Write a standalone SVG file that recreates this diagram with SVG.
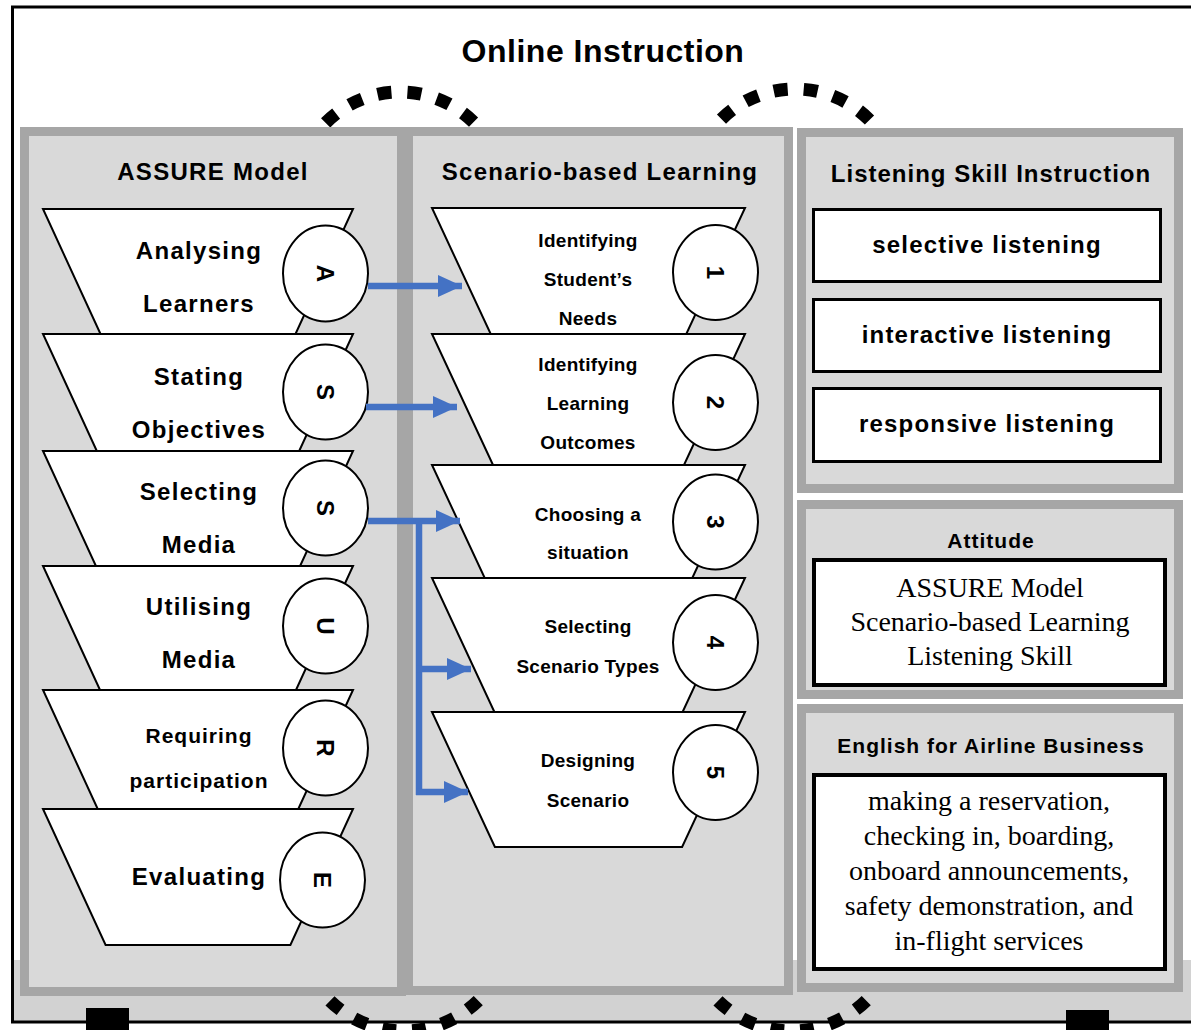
<svg xmlns="http://www.w3.org/2000/svg" width="1191" height="1030" viewBox="0 0 1191 1030">
<style>
.panel{fill:#d9d9d9;stroke:#a6a6a6;stroke-width:9}
.trap{fill:#fff;stroke:#000;stroke-width:2;stroke-linejoin:miter}
.circ{fill:#fff;stroke:#000;stroke-width:2}
.box{fill:#fff;stroke:#000;stroke-width:3}
.boxk{fill:#fff;stroke:#000;stroke-width:4}
.lbl{font-family:"Liberation Sans",Arial,sans-serif;font-weight:bold;text-anchor:middle;fill:#000}
.t24{font-size:24px;letter-spacing:1.3px}
.t21{font-size:21px;letter-spacing:1px}
.mid{font-size:19px;letter-spacing:0.3px}
.ltr{font-size:24px;dominant-baseline:central}
.serif{font-family:"Liberation Serif","Times New Roman",serif;font-size:28px;text-anchor:middle;fill:#000}
.dash{fill:none;stroke:#000;stroke-width:13;stroke-dasharray:14 16}
.arrow{stroke:#4472c4;stroke-width:6.5;fill:none}
</style>
<defs>
<marker id="ah" markerUnits="userSpaceOnUse" markerWidth="24" markerHeight="22" refX="24" refY="11" orient="auto">
<path d="M0,0 L24,11 L0,22 z" fill="#4472c4"/>
</marker>
</defs>
<rect x="0" y="0" width="1191" height="1030" fill="#fff"/>
<rect x="14" y="960" width="1177" height="61" fill="#d2d2d2"/>
<rect x="12.5" y="7" width="1190" height="1015" fill="none" stroke="#000" stroke-width="3"/>
<text class="lbl" x="603" y="62" style="font-size:32px;letter-spacing:0.5px">Online Instruction</text>

<g id="cycle-arcs">
<path class="dash" d="M318.3,131 A105,105 0 0 1 481.7,131" style="stroke-dashoffset:19"/>
<path class="dash" d="M711,131 A105,105 0 0 1 879,131" style="stroke-dashoffset:14"/>
</g>

<g id="panel-assure">
<rect class="panel" x="24.5" y="131.5" width="377" height="860"/>
<text class="lbl t24" x="213" y="180">ASSURE Model</text>
</g>
<g id="panel-scenario">
<rect class="panel" x="408.5" y="131.5" width="380" height="859"/>
<text class="lbl t24" x="600" y="180">Scenario-based Learning</text>
</g>
<g id="panel-listening">
<rect class="panel" x="801.5" y="132.5" width="377" height="356"/>
<text class="lbl t24" x="991" y="182" style="letter-spacing:1px">Listening Skill Instruction</text>
</g>
<g id="panel-attitude">
<rect class="panel" x="801.5" y="504.5" width="377" height="190"/>
<text class="lbl t21" x="991" y="548">Attitude</text>
</g>
<g id="panel-english">
<rect class="panel" x="801.5" y="708.5" width="377" height="279"/>
<text class="lbl t21" x="991" y="753">English for Airline Business</text>
</g>

<g id="bottom-arcs">
<path class="dash" d="M321.9,992 A106,106 0 0 0 486.1,992" style="stroke-dashoffset:18"/>
<path class="dash" d="M709.9,992 A106,106 0 0 0 874.1,992" style="stroke-dashoffset:18"/>
</g>
<rect x="86" y="1008" width="43" height="22" fill="#000"/>
<rect x="1066" y="1010" width="43" height="20" fill="#000"/>

<g id="a-analysing">
<polygon class="trap" points="43,209 353,209 295.5,334 100.5,334"/>
<ellipse class="circ" cx="325.5" cy="273.5" rx="42.5" ry="48"/>
<text class="lbl ltr" transform="translate(325.5,273.5) rotate(90)">A</text>
<text class="lbl t24" x="199" y="259">Analysing</text>
<text class="lbl t24" x="199" y="312">Learners</text>
</g>
<g id="s-stating">
<polygon class="trap" points="43,334 353,334 299.2,451 96.8,451"/>
<ellipse class="circ" cx="325.5" cy="392" rx="42.5" ry="47.5"/>
<text class="lbl ltr" transform="translate(325.5,392) rotate(90)">S</text>
<text class="lbl t24" x="199" y="385">Stating</text>
<text class="lbl t24" x="199" y="438">Objectives</text>
</g>
<g id="s-selecting">
<polygon class="trap" points="43,451 353,451 300.1,566 95.9,566"/>
<ellipse class="circ" cx="325.5" cy="508" rx="42.5" ry="47.5"/>
<text class="lbl ltr" transform="translate(325.5,508) rotate(90)">S</text>
<text class="lbl t24" x="199" y="500">Selecting</text>
<text class="lbl t24" x="199" y="553">Media</text>
</g>
<g id="u-utilising">
<polygon class="trap" points="43,566 353,566 296,690 100,690"/>
<ellipse class="circ" cx="325.5" cy="626" rx="42.5" ry="47.5"/>
<text class="lbl ltr" transform="translate(325.5,626) rotate(90)">U</text>
<text class="lbl t24" x="199" y="615">Utilising</text>
<text class="lbl t24" x="199" y="668">Media</text>
</g>
<g id="r-requiring">
<polygon class="trap" points="43,690 353,690 298.3,809 97.7,809"/>
<ellipse class="circ" cx="325.5" cy="748" rx="42.5" ry="47.5"/>
<text class="lbl ltr" transform="translate(325.5,748) rotate(90)">R</text>
<text class="lbl t21" x="199" y="743">Requiring</text>
<text class="lbl t21" x="199" y="788">participation</text>
</g>
<g id="e-evaluating">
<polygon class="trap" points="43,809 353,809 290.4,945 105.6,945"/>
<ellipse class="circ" cx="322.5" cy="880" rx="42.5" ry="47.5"/>
<text class="lbl ltr" transform="translate(322.5,880) rotate(90)">E</text>
<text class="lbl t24" x="199" y="885">Evaluating</text>
</g>

<g id="s1-needs">
<polygon class="trap" points="432,208 745,208 686.3,334 490.7,334"/>
<ellipse class="circ" cx="715.5" cy="272.5" rx="42.5" ry="47.5"/>
<text class="lbl ltr" transform="translate(715.5,272.5) rotate(90)">1</text>
<text class="lbl mid" x="588" y="247">Identifying</text>
<text class="lbl mid" x="588" y="286">Student’s</text>
<text class="lbl mid" x="588" y="325">Needs</text>
</g>
<g id="s2-outcomes">
<polygon class="trap" points="432,334 745,334 684,465 493,465"/>
<ellipse class="circ" cx="715.5" cy="402.5" rx="42.5" ry="47.5"/>
<text class="lbl ltr" transform="translate(715.5,402.5) rotate(90)">2</text>
<text class="lbl mid" x="588" y="371">Identifying</text>
<text class="lbl mid" x="588" y="410">Learning</text>
<text class="lbl mid" x="588" y="449">Outcomes</text>
</g>
<g id="s3-situation">
<polygon class="trap" points="432,465 745,465 692.3,578 484.7,578"/>
<ellipse class="circ" cx="715.5" cy="522" rx="42.5" ry="47.5"/>
<text class="lbl ltr" transform="translate(715.5,522) rotate(90)">3</text>
<text class="lbl mid" x="588" y="521">Choosing a</text>
<text class="lbl mid" x="588" y="559">situation</text>
</g>
<g id="s4-types">
<polygon class="trap" points="432,578 745,578 682.6,712 494.4,712"/>
<ellipse class="circ" cx="715.5" cy="642.5" rx="42.5" ry="47.5"/>
<text class="lbl ltr" transform="translate(715.5,642.5) rotate(90)">4</text>
<text class="lbl mid" x="588" y="633">Selecting</text>
<text class="lbl mid" x="588" y="673">Scenario Types</text>
</g>
<g id="s5-designing">
<polygon class="trap" points="432,712 745,712 682.1,847 494.9,847"/>
<ellipse class="circ" cx="715.5" cy="772.5" rx="42.5" ry="47.5"/>
<text class="lbl ltr" transform="translate(715.5,772.5) rotate(90)">5</text>
<text class="lbl mid" x="588" y="767">Designing</text>
<text class="lbl mid" x="588" y="807">Scenario</text>
</g>

<g id="l-selective">
<rect class="box" x="813.5" y="209.5" width="347" height="72"/>
<text class="lbl t24" x="987" y="253" style="letter-spacing:1.2px">selective listening</text>
</g>
<g id="l-interactive">
<rect class="box" x="813.5" y="299.5" width="347" height="72"/>
<text class="lbl t24" x="987" y="343" style="letter-spacing:1.2px">interactive listening</text>
</g>
<g id="l-responsive">
<rect class="box" x="813.5" y="388.5" width="347" height="73"/>
<text class="lbl t24" x="987" y="432" style="letter-spacing:1.2px">responsive listening</text>
</g>
<g id="attitude-box">
<rect class="boxk" x="814" y="560" width="351" height="125"/>
<text class="serif" x="990" y="597">ASSURE Model</text>
<text class="serif" x="990" y="631">Scenario-based Learning</text>
<text class="serif" x="990" y="665">Listening Skill</text>
</g>
<g id="english-box">
<rect class="boxk" x="814" y="775" width="351" height="194"/>
<text class="serif" x="989" y="810">making a reservation,</text>
<text class="serif" x="989" y="845">checking in, boarding,</text>
<text class="serif" x="989" y="880">onboard announcements,</text>
<text class="serif" x="989" y="915">safety demonstration, and</text>
<text class="serif" x="989" y="950">in-flight services</text>
</g>

<g id="connectors">
<line class="arrow" x1="368" y1="286" x2="462" y2="286" marker-end="url(#ah)"/>
<line class="arrow" x1="366" y1="407" x2="457" y2="407" marker-end="url(#ah)"/>
<line class="arrow" x1="368" y1="521" x2="460" y2="521" marker-end="url(#ah)"/>
<path class="arrow" d="M419,518 V795"/>
<line class="arrow" x1="416" y1="669" x2="471" y2="669" marker-end="url(#ah)"/>
<line class="arrow" x1="416" y1="792" x2="468" y2="792" marker-end="url(#ah)"/>
</g>
</svg>
